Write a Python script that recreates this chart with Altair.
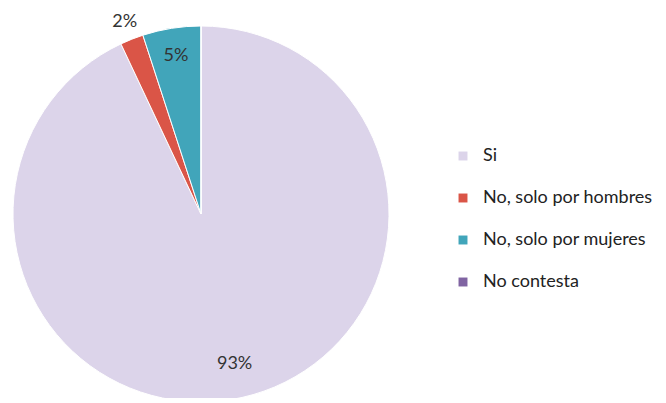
import altair as alt
import pandas as pd

categories = ["Si", "No, solo por hombres", "No, solo por mujeres", "No contesta"]
values = [93, 2, 5, 0]
labels = ["93%", "2%", "5%", ""]
colors = ["#DCD4EA", "#DA5547", "#41A5BA", "#8064A2"]

df = pd.DataFrame({"cat": categories, "val": values, "lab": labels, "ord": list(range(len(categories)))})

CX, CY, R = 193, 206, 188
FONT = "Lato"

pie = alt.Chart(df).mark_arc(outerRadius=R, stroke="white", strokeWidth=1).encode(
    theta=alt.Theta("val:Q", stack=True),
    order=alt.Order("ord:Q"),
    x=alt.value(CX),
    y=alt.value(CY),
    color=alt.Color(
        "cat:N",
        scale=alt.Scale(domain=categories, range=colors),
        sort=categories,
        legend=alt.Legend(
            title=None,
            orient="none",
            legendX=446,
            legendY=139,
            symbolType="square",
            symbolSize=80,
            symbolStrokeWidth=0,
            labelFont=FONT,
            labelFontSize=18,
            labelColor="#222222",
            labelOffset=11,
            rowPadding=24,
            labelLimit=300,
        ),
    ),
)

text = (
    alt.Chart(df)
    .transform_joinaggregate(total="sum(val)")
    .transform_window(cum="sum(val)", sort=[alt.SortField("ord")], frame=[None, 0])
    .transform_calculate(
        mid="(datum.cum - datum.val / 2) / datum.total * 2 * PI",
        r="datum.cat == 'No, solo por hombres' ? 207 : (datum.cat == 'Si' ? 154 : 160)",
    )
    .transform_calculate(
        px=f"{CX} + datum.r * sin(datum.mid)",
        py=f"{CY} - datum.r * cos(datum.mid)",
    )
    .transform_filter("datum.val > 0")
    .mark_text(font=FONT, fontSize=18, color="#333333")
    .encode(
        x=alt.X("px:Q", scale=None),
        y=alt.Y("py:Q", scale=None),
        text="lab:N",
    )
)

chart = (
    alt.layer(pie, text)
    .properties(width=650, height=390, autosize=alt.AutoSizeParams(type="none"), padding=0)
    .configure_view(stroke=None)
)

chart.save("out.html", embed_options={"renderer": "svg", "actions": False})
